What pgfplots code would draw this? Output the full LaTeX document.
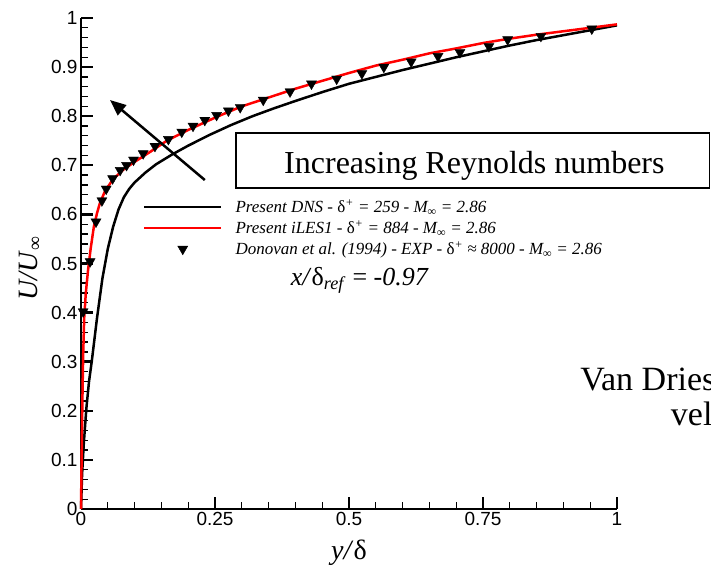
\documentclass[border=0pt]{standalone}
\usepackage{fontspec}
\setmainfont{Liberation Serif}
\newfontfamily\arial{Liberation Sans}
\usepackage{pgfplots}
\pgfplotsset{compat=1.18}
\usetikzlibrary{arrows.meta}
\begin{document}
\begin{tikzpicture}
\path[use as bounding box] (0,0) rectangle (711pt,569pt);
\begin{axis}[
  at={(81pt,60pt)}, anchor=south west,
  scale only axis, width=536pt, height=491pt,
  xmin=0, xmax=1, ymin=0, ymax=1,
  axis lines*=left,
  tick align=inside,
  xtick={0,0.25,0.5,0.75,1},
  ytick={0,0.1,0.2,0.3,0.4,0.5,0.6,0.7,0.8,0.9,1},
  minor x tick num=4, minor y tick num=4,
  major tick length=12pt, minor tick length=7pt,
  major tick style={line width=2.4pt, black},
  minor tick style={line width=1.3pt, black},
  axis line style={line width=2.5pt, black},
  /pgf/number format/assume math mode=true,
  ticklabel style={font=\arial\fontsize{19}{19}\selectfont},
  xlabel={\textit{y/}\textup{δ}},
  ylabel={\textit{U/U}\textsubscript{∞}},
  xlabel style={font=\fontsize{28}{28}\selectfont, at={(axis description cs:0.5,-0.0896)}, anchor=center},
  ylabel style={font=\fontsize{28}{28}\selectfont, at={(axis description cs:-0.095,0.49)}, anchor=center},
  clip=false,
  legend image code/.code={\draw[mark repeat=2,mark phase=2,#1] plot coordinates {(0pt,6pt) (38.5pt,6pt) (77pt,6pt)};},
  legend cell align=left,
  legend style={at={(axis cs:0.1157,0.6273)}, anchor=north west, draw=none, fill=none,
    inner sep=0pt, outer sep=0pt, row sep=5pt, column sep=13pt,
    font=\fontsize{17}{17}\selectfont,
    cells={anchor=base west},
    nodes={inner sep=0pt, text height=12pt, text depth=4pt}},
]
\addplot[black, line width=2.5pt] table {
0 0
0.002 0.07
0.005 0.13
0.01 0.205
0.015 0.26
0.02 0.30
0.03 0.39
0.04 0.47
0.05 0.53
0.06 0.575
0.07 0.61
0.08 0.635
0.09 0.652
0.10 0.665
0.12 0.685
0.14 0.702
0.17 0.722
0.20 0.740
0.24 0.762
0.28 0.782
0.32 0.800
0.36 0.816
0.40 0.831
0.45 0.849
0.50 0.866
0.55 0.880
0.60 0.894
0.65 0.907
0.70 0.920
0.75 0.932
0.80 0.944
0.85 0.955
0.90 0.965
0.95 0.975
1.00 0.985
};
\addlegendentry{\itshape Present DNS - \textup{δ}\textsuperscript{+} = 259 - M\textsubscript{∞} = 2.86}
\addplot[red, line width=2.5pt] table {
0 0
0.001 0.09
0.002 0.17
0.003 0.25
0.004 0.31
0.006 0.39
0.009 0.44
0.013 0.485
0.018 0.53
0.024 0.575
0.03 0.603
0.035 0.622
0.045 0.648
0.06 0.672
0.08 0.692
0.10 0.707
0.13 0.728
0.16 0.750
0.20 0.772
0.25 0.797
0.28 0.811
0.30 0.820
0.35 0.838
0.40 0.856
0.45 0.872
0.50 0.888
0.55 0.903
0.60 0.915
0.65 0.928
0.70 0.938
0.75 0.949
0.80 0.958
0.85 0.966
0.90 0.973
0.95 0.980
1.00 0.987
};
\addlegendentry{\itshape Present iLES1 - \textup{δ}\textsuperscript{+} = 884 - M\textsubscript{∞} = 2.86}
\addplot[only marks, mark=triangle*, mark size=5.8pt, mark options={rotate=180, fill=black, draw=black}] table {
0.004 0.402
0.017 0.504
0.028 0.585
0.039 0.628
0.047 0.652
0.059 0.673
0.073 0.690
0.085 0.700
0.098 0.711
0.116 0.724
0.138 0.739
0.163 0.753
0.188 0.768
0.209 0.780
0.231 0.792
0.253 0.802
0.275 0.811
0.297 0.818
0.340 0.833
0.390 0.850
0.430 0.866
0.477 0.876
0.524 0.887
0.565 0.900
0.616 0.911
0.666 0.922
0.707 0.930
0.761 0.942
0.796 0.956
0.858 0.963
0.953 0.978
};
\addlegendentry{\itshape Donovan et al. (1994) - EXP - \textup{δ}\textsuperscript{+} ≈ 8000 - M\textsubscript{∞} = 2.86}
\draw[line width=1.5pt] (axis cs:0.289,0.654) rectangle (axis cs:1.173,0.766);
\node[anchor=base, font=\fontsize{32}{32}\selectfont] at (axis cs:0.734,0.6843) {Increasing Reynolds numbers};
\draw[line width=2.5pt, -{Triangle[length=16pt,width=13pt]}] (axis cs:0.231,0.670) -- (axis cs:0.054,0.833);
\node[anchor=base west, font=\fontsize{26}{26}\selectfont] at (axis cs:0.385,0.455) {\textit{x/}\textup{δ}\textsubscript{\textit{ref}} = \textit{-0.97}};
\node[anchor=base west, font=\fontsize{34}{34}\selectfont] at (axis cs:0.925,0.242) {Van Driest transformed};
\node[anchor=base west, font=\fontsize{34}{34}\selectfont] at (axis cs:1.094,0.171) {velocity};
\end{axis}
\end{tikzpicture}
\end{document}
